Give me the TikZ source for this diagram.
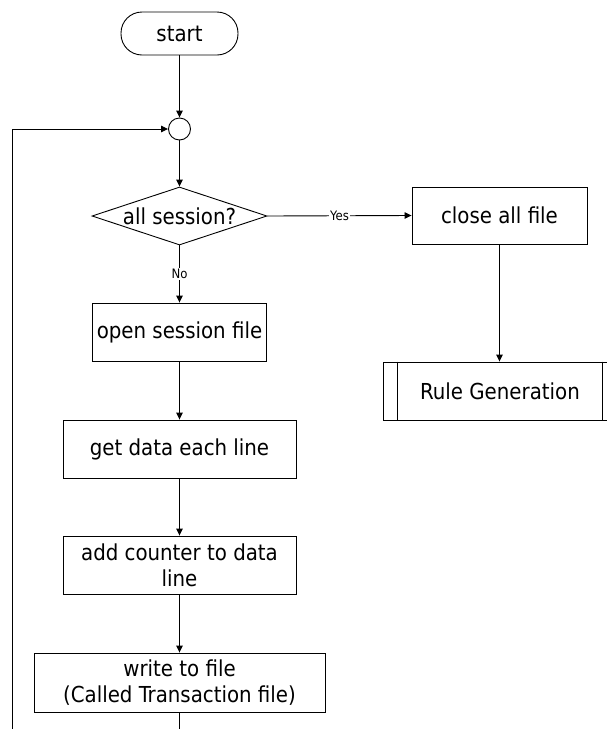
\documentclass[tikz,border=0pt]{standalone}
\usepackage{fontspec}
\setmainfont{DejaVu Sans Condensed}
\usetikzlibrary{shapes.geometric,arrows.meta}
\tikzset{
  x=1pt, y=-1pt,
  every node/.style={font=\fontsize{22}{26}\selectfont, align=center},
  procbox/.style={draw, rectangle, inner sep=0pt, line width=0.9pt},
  flow/.style={line width=0.9pt, -{Triangle[length=7pt,width=6.5pt]}},
  plain/.style={line width=0.9pt},
  lbl/.style={font=\fontsize{13}{15}\selectfont, fill=white, inner sep=1pt}
}
\begin{document}
\begin{tikzpicture}
\useasboundingbox (0,0) rectangle (606,729);

% start terminal
\node[procbox, rounded corners=21pt, minimum width=117pt, minimum height=43pt] (start) at (179.5,33.5) {start};
% loop join point
\node[draw, circle, line width=0.9pt, minimum size=22pt, inner sep=0pt] (join) at (179.5,129) {};
% decision
\node[draw, diamond, line width=0.9pt, minimum width=175pt, minimum height=58pt, inner sep=0pt] (dec) at (179.5,216) {};
\node at (dec) {all session?};
% right branch
\node[procbox, minimum width=175pt, minimum height=57pt] (close) at (499.5,215.5) {close all file};
\node[procbox, minimum width=234pt, minimum height=58pt] (rule) at (500,391) {Rule Generation};
\draw[plain] ([xshift=15pt]rule.north west) -- ([xshift=15pt]rule.south west);
\draw[plain] ([xshift=-15pt]rule.north east) -- ([xshift=-15pt]rule.south east);
% main column
\node[procbox, minimum width=174pt, minimum height=58pt] (open) at (179.5,332) {open session file};
\node[procbox, minimum width=233pt, minimum height=58pt] (get) at (179.5,449) {get data each line};
\node[procbox, minimum width=233pt, minimum height=58pt] (add) at (179.5,565) {add counter to data\\line};
\node[procbox, minimum width=291pt, minimum height=59pt] (write) at (179.5,682.5) {write to file\\(Called Transaction file)};

\coordinate (loopcorner) at (12,760);

% connectors
\draw[flow] (start) -- (join);
\draw[flow] (join) -- (dec);
\draw[flow] (dec.east) -- node[lbl] {Yes} (close.west);
\draw[flow] (dec.south) -- node[lbl] {No} (open.north);
\draw[flow] (close.south) -- (rule.north -| close.south);
\draw[flow] (open) -- (get);
\draw[flow] (get) -- (add);
\draw[flow] (add) -- (write);
\draw[flow] (write.south) |- (loopcorner) |- (join.west);
\end{tikzpicture}
\end{document}
